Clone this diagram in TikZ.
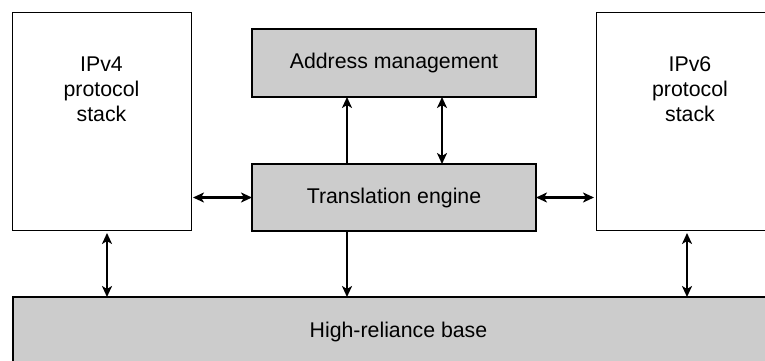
\documentclass[tikz,border=0pt]{standalone}
\usepackage{fontspec}
\setmainfont{Liberation Sans}
\usetikzlibrary{arrows.meta}
\definecolor{boxgray}{HTML}{CCCCCC}
\begin{document}
\begin{tikzpicture}[x=1pt,y=-1pt,
  every node/.style={font=\fontsize{21.3pt}{25pt}\selectfont, inner sep=0pt, outer sep=0pt},
  stackbox/.style={draw=black, line width=0.9pt, fill=white},
  graybox/.style={draw=black, line width=2.2pt, fill=boxgray},
  conn/.style={line width=2.2pt, -{Stealth[length=11pt,width=10pt,inset=3pt]}},
  bconn/.style={line width=2.2pt, {Stealth[length=11pt,width=10pt,inset=3pt]}-{Stealth[length=11pt,width=10pt,inset=3pt]}}]
\clip (0,0) rectangle (765,360);
\node[stackbox, minimum width=179pt, minimum height=218pt] (v4) at (101.5,121) {};
\node[stackbox, minimum width=188pt, minimum height=218pt] (v6) at (690,121) {};
\node[graybox, minimum width=284pt, minimum height=68pt] (am) at (394,63) {Address management};
\node[graybox, minimum width=284pt, minimum height=67pt] (te) at (394,197.5) {Translation engine};
\node[graybox, minimum width=771pt, minimum height=70pt] (base) at (398.5,332) {High-reliance base};
\node[align=center] (v4t) at (101.5,89) {IPv4\\protocol\\stack};
\node[align=center] (v6t) at (690,89) {IPv6\\protocol\\stack};
% horizontal connectors
\draw[bconn, shorten <=2pt] (v4.east |- te.west) -- (te.west);
\draw[bconn, shorten >=2pt] (te.east) -- (v6.west |- te.east);
% vertical connectors
\coordinate (x1) at (347,0);
\coordinate (x2) at (442,0);
\coordinate (x3) at (107,0);
\coordinate (x4) at (687,0);
\draw[conn] (te.north -| x1) -- (am.south -| x1);
\draw[bconn] (am.south -| x2) -- (te.north -| x2);
\draw[conn] (te.south -| x1) -- (base.north -| x1);
\draw[bconn, shorten <=3pt] (v4.south -| x3) -- (base.north -| x3);
\draw[bconn, shorten <=3pt] (v6.south -| x4) -- (base.north -| x4);
\end{tikzpicture}
\end{document}
